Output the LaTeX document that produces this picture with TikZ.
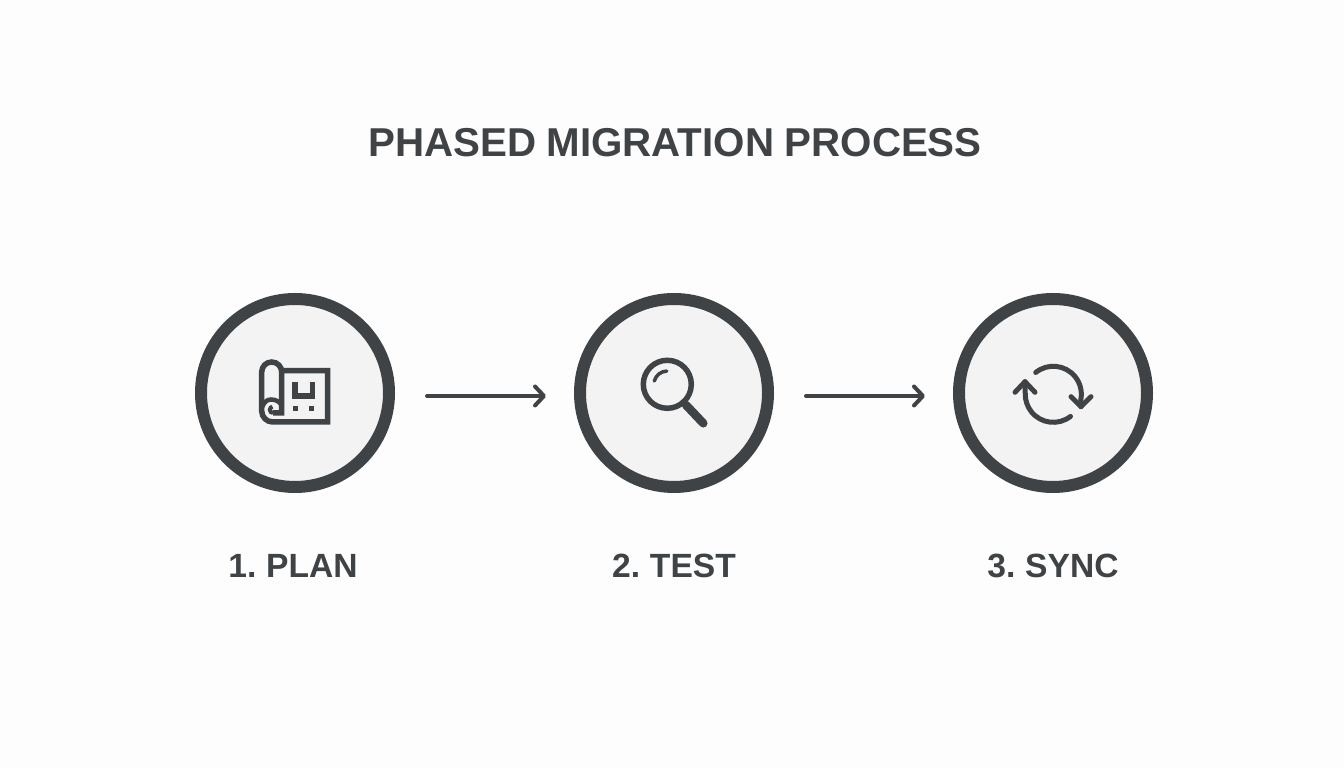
\documentclass[tikz,border=0pt]{standalone}
\usepackage{fontspec}
\setmainfont{Liberation Sans}
\usetikzlibrary{arrows.meta,positioning}
\definecolor{ink}{HTML}{3F4346}
\definecolor{disc}{HTML}{F3F3F3}
\definecolor{paper}{HTML}{FDFDFD}
\begin{document}
\begin{tikzpicture}[x=1pt,y=1pt,node distance=379pt,on grid]
  \tikzset{
    stage/.style={draw=ink,fill=disc,circle,line width=12pt,minimum size=188pt,inner sep=0pt},
    caption/.style={text=ink,font={\fontsize{33.6}{36}\selectfont\bfseries\spaceskip .2em\relax}},
    heading/.style={text=ink,font={\fontsize{40.3}{44}\selectfont\bfseries\spaceskip .26em\relax}},
    glyph/.style={draw=ink,line width=5pt,line cap=round,line join=round},
    sheet/.style={glyph,line width=5.5pt,line cap=butt,line join=miter},
    flow/.style={draw=ink,line width=4pt,line cap=round,
      -{Straight Barb[length=9pt,width=19pt,line width=4pt,round]},
      shorten <=32pt,shorten >=28pt}
  }
  \fill[paper] (0,0) rectangle (1344,768);
  \useasboundingbox (0,0) rectangle (1344,768);
  \node[stage] (plan) at (295,375) {};
  \node[stage] (test) [right = of plan] {};
  \node[stage] (sync) [right = of test] {};
  \node[heading] (title) at (675,625) {PHASED MIGRATION PROCESS};
  \node[caption] (planlabel) [below = 173pt of plan,xshift=-2pt] {1. PLAN};
  \node[caption] (testlabel) [below = 173pt of test] {2. TEST};
  \node[caption] (synclabel) [below = 173pt of sync] {3. SYNC};
  \draw[flow] ([yshift=-3pt]plan.east) -- ([yshift=-3pt]test.west);
  \draw[flow] ([yshift=-3pt]test.east) -- ([yshift=-3pt]sync.west);
  % blueprint
  \begin{scope}[shift={(plan.center)}]
    \draw[sheet] (-13.3,22.3) -- (32.7,22.3) -- (32.7,-29) -- (-22.3,-29)
      arc (270:180:11) -- (-33.3,21) arc (180:0:10) -- (-13.3,-20) -- (-22,-20);
    \draw[sheet,line width=4pt] (-22,-20) arc (270:100:3.2);
    \draw[sheet,line width=4.5pt] (-33.3,-15) .. controls (-31,-9) and (-28,-6.5) .. (-24,-6.5)
      .. controls (-19,-6.5) and (-14.5,-9) .. (-13.3,-13);
    \draw[sheet] (0,11) -- (0,-3) -- (17.7,-3) -- (17.7,11);
    \fill[ink] (-2.5,-18.5) rectangle (2.5,-13.5);
    \fill[ink] (14.2,-18.5) rectangle (19.2,-13.5);
  \end{scope}
  % magnifier
  \begin{scope}[shift={(test.center)}]
    \draw[glyph,line width=5.5pt] (-6.7,8.7) circle (24);
    \draw[glyph,line width=3.5pt] (-19.7,12) arc (165:92:13.4);
    \draw[glyph,line width=5.5pt] (9,-9) -- (12,-12);
    \draw[glyph,line width=8.5pt] (12,-12) -- (29.3,-30.3);
  \end{scope}
  % arrows in a ring
  \begin{scope}[shift={(sync.center)}]
    \draw[glyph] (-17.3,20.5) arc (129:-10:28) -- (28,-13.7);
    \draw[glyph] (18,-3.7) -- (28,-13.7) -- (38,-3.7);
    \draw[glyph] (17.5,-23.4) arc (-52:-180:28) -- (-28,11.3);
    \draw[glyph] (-38,0.7) -- (-28,11.3) -- (-18,0.7);
  \end{scope}
\end{tikzpicture}
\end{document}
